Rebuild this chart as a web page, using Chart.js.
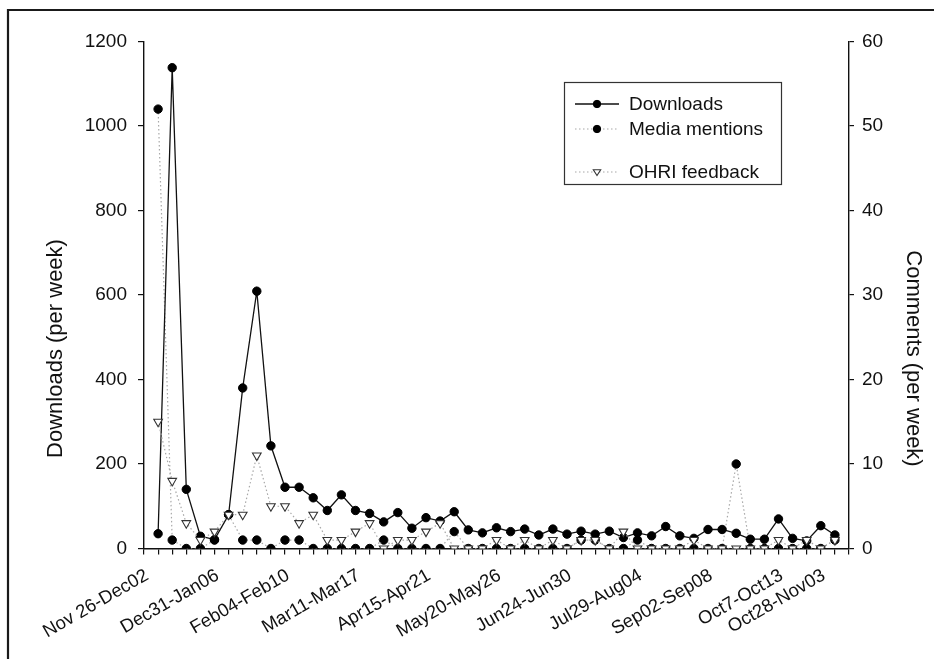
<!DOCTYPE html>
<html>
<head>
<meta charset="utf-8">
<script src="https://cdn.jsdelivr.net/npm/chart.js@4/dist/chart.umd.min.js"></script>
<style>
  html, body { margin: 0; padding: 0; background: #fff; }
  #wrap { width: 934px; height: 659px; position: relative; }
</style>
</head>
<body>
<div id="wrap"><canvas id="c" width="934" height="659"></canvas></div>
<script>
// Week numbers 1..49 (Nov 26 - Nov 03)
const tickWeeks = [1, 6, 11, 16, 21, 26, 31, 36, 41, 46, 49];
const tickLabels = ['Nov 26-Dec02', 'Dec31-Jan06', 'Feb04-Feb10', 'Mar11-Mar17', 'Apr15-Apr21',
  'May20-May26', 'Jun24-Jun30', 'Jul29-Aug04', 'Sep02-Sep08', 'Oct7-Oct13', 'Oct28-Nov03'];

const downloads = [35, 1138, 140, 29, 21, 80, 380, 609, 243, 145, 145, 120, 90, 127, 90, 83, 63, 85, 48, 73,
  65, 87, 44, 37, 49, 40, 46, 32, 46, 34, 41, 34, 41, 26, 37, 30, 52, 30, 24, 45,
  45, 36, 22, 22, 70, 24, 18, 54, 32];
const mediaMentions = [52, 1, 0, 0, 1, 4, 1, 1, 0, 1, 1, 0, 0, 0, 0, 0, 1, 0, 0, 0,
  0, 2, 0, 0, 0, 0, 0, 0, 0, 0, 1, 1, 0, 0, 1, 0, 0, 0, 0, 0,
  0, 10, 0, 0, 0, 0, 0, 0, 1];
const ohriFeedback = [15, 8, 3, 1, 2, 4, 4, 11, 5, 5, 3, 4, 1, 1, 2, 3, 0, 1, 1, 2,
  3, 0, 0, 0, 1, 0, 1, 0, 1, 0, 1, 1, 0, 2, 0, 0, 0, 0, 1, 0,
  0, 0, 0, 0, 1, 0, 1, 0, 1];

const leftTicks = [0, 200, 400, 600, 800, 1000, 1200];
const rightTicks = [0, 10, 20, 30, 40, 50, 60];
const leftTitle = 'Downloads (per week)';
const rightTitle = 'Comments (per week)';

const FONT = "'Liberation Sans', Arial, Helvetica, sans-serif";
const toXY = arr => arr.map((v, i) => ({ x: i + 1, y: v }));

const frame = {
  id: 'frame',
  beforeDraw(chart) {
    const ctx = chart.ctx;
    ctx.save();
    ctx.fillStyle = '#fff';
    ctx.fillRect(0, 0, chart.width, chart.height);
    ctx.restore();
  },
  afterDraw(chart) {
    const ctx = chart.ctx;
    ctx.save();
    ctx.strokeStyle = '#1a1a1a';
    ctx.lineWidth = 2.2;
    ctx.beginPath();
    ctx.moveTo(8, chart.height + 2);
    ctx.lineTo(8, 10);
    ctx.lineTo(chart.width + 2, 10);
    ctx.stroke();
    ctx.restore();
  }
};

const axisTitles = {
  id: 'axisTitles',
  afterDraw(chart) {
    const ctx = chart.ctx;
    const area = chart.chartArea;
    ctx.save();
    ctx.fillStyle = '#111';
    ctx.font = '22px ' + FONT;
    ctx.textAlign = 'center';
    ctx.textBaseline = 'middle';
    ctx.save();
    ctx.translate(56, area.bottom - 200);
    ctx.rotate(-Math.PI / 2);
    ctx.fillText(leftTitle, 0, 0);
    ctx.restore();
    ctx.save();
    ctx.translate(913, area.bottom - 190);
    ctx.rotate(Math.PI / 2);
    ctx.fillText(rightTitle, 0, 0);
    ctx.restore();
    ctx.restore();
  }
};

function drawMarker(ctx, ds, x, y, r) {
  ctx.save();
  ctx.setLineDash([]);
  ctx.fillStyle = ds.pointBackgroundColor;
  ctx.strokeStyle = ds.pointBorderColor;
  ctx.lineWidth = ds.pointBorderWidth || 1;
  ctx.beginPath();
  if (ds.pointStyle === 'triangle') {
    ctx.moveTo(x - r, y - r * 0.6);
    ctx.lineTo(x + r, y - r * 0.6);
    ctx.lineTo(x, y + r * 0.95);
    ctx.closePath();
  } else {
    ctx.arc(x, y, r, 0, Math.PI * 2);
  }
  ctx.fill();
  ctx.stroke();
  ctx.restore();
}

const legendBox = {
  id: 'legendBox',
  afterDraw(chart) {
    const ctx = chart.ctx;
    ctx.save();
    ctx.strokeStyle = '#333';
    ctx.lineWidth = 1.2;
    ctx.strokeRect(564.5, 82.5, 217, 102);
    const rows = [104, 129, 172];
    chart.data.datasets.forEach((ds, i) => {
      const y = rows[i];
      ctx.save();
      ctx.beginPath();
      ctx.setLineDash(ds.borderDash || []);
      ctx.strokeStyle = ds.borderColor;
      ctx.lineWidth = ds.borderWidth;
      ctx.moveTo(575, y);
      ctx.lineTo(619, y);
      ctx.stroke();
      ctx.restore();
      drawMarker(ctx, ds, 597, y, 3.7);
      ctx.fillStyle = '#111';
      ctx.font = '19px ' + FONT;
      ctx.textAlign = 'left';
      ctx.textBaseline = 'middle';
      ctx.fillText(ds.label, 629, y + 1);
    });
    ctx.restore();
  }
};

new Chart(document.getElementById('c'), {
  type: 'line',
  data: {
    datasets: [
      {
        label: 'Downloads',
        data: toXY(downloads),
        yAxisID: 'y',
        borderColor: '#111',
        borderWidth: 1.3,
        pointStyle: 'circle',
        pointRadius: 4.2,
        pointBackgroundColor: '#000',
        pointBorderColor: '#000',
        pointBorderWidth: 1,
        tension: 0,
        order: 1
      },
      {
        label: 'Media mentions',
        data: toXY(mediaMentions),
        yAxisID: 'y2',
        borderColor: '#a8a8a8',
        borderWidth: 1.2,
        borderDash: [1.5, 2.5],
        pointStyle: 'circle',
        pointRadius: 4.2,
        pointBackgroundColor: '#000',
        pointBorderColor: '#000',
        pointBorderWidth: 1,
        tension: 0,
        order: 2
      },
      {
        label: 'OHRI feedback',
        data: toXY(ohriFeedback),
        yAxisID: 'y2',
        borderColor: '#a8a8a8',
        borderWidth: 1.2,
        borderDash: [1.5, 2.5],
        pointStyle: 'triangle',
        rotation: 180,
        pointRadius: 5,
        pointBackgroundColor: '#fff',
        pointBorderColor: '#333',
        pointBorderWidth: 1.1,
        tension: 0,
        order: 0
      }
    ]
  },
  options: {
    responsive: false,
    animation: false,
    layout: { padding: { top: 41.5, left: 0, right: 0, bottom: 0 } },
    plugins: { legend: { display: false }, tooltip: { enabled: false } },
    scales: {
      x: {
        type: 'linear',
        min: 0,
        max: 50,
        afterFit(scale) { scale.height = 659 - 548.5; },
        afterBuildTicks(scale) {
          scale.ticks = Array.from({ length: 51 }, (_, i) => ({ value: i }));
        },
        grid: { drawOnChartArea: false, drawTicks: true, tickLength: 6, color: '#111', lineWidth: 1.2 },
        border: { display: true, color: '#111', width: 1.4 },
        ticks: {
          autoSkip: false,
          minRotation: 30,
          maxRotation: 30,
          padding: 10,
          labelOffset: -11,
          color: '#111',
          font: { size: 18.5, family: FONT },
          callback(value) {
            const k = tickWeeks.indexOf(value);
            return k >= 0 ? tickLabels[k] : '';
          }
        }
      },
      y: {
        type: 'linear',
        position: 'left',
        min: 0,
        max: 1200,
        afterFit(scale) { scale.width = 144; },
        afterBuildTicks(scale) { scale.ticks = leftTicks.map(v => ({ value: v })); },
        grid: { drawOnChartArea: false, tickLength: 6, color: '#111', lineWidth: 1.2 },
        border: { display: true, color: '#111', width: 1.4 },
        ticks: { color: '#111', padding: 11, font: { size: 19, family: FONT }, callback: v => String(v) },
        title: { display: false, text: leftTitle }
      },
      y2: {
        type: 'linear',
        position: 'right',
        min: 0,
        max: 60,
        afterFit(scale) { scale.width = 934 - 849; },
        afterBuildTicks(scale) { scale.ticks = rightTicks.map(v => ({ value: v })); },
        grid: { drawOnChartArea: false, tickLength: 5, color: '#111', lineWidth: 1.2 },
        border: { display: true, color: '#111', width: 1.4 },
        ticks: { color: '#111', padding: 8, font: { size: 19, family: FONT }, callback: v => String(v) },
        title: { display: false, text: rightTitle }
      }
    }
  },
  plugins: [frame, axisTitles, legendBox]
});
</script>
</body>
</html>
